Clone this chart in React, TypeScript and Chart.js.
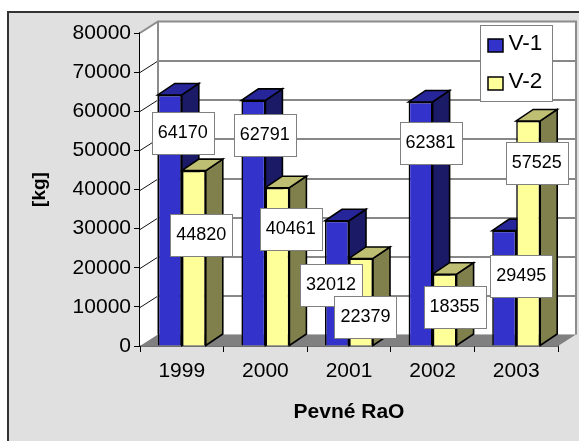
import React, { useEffect, useRef } from "react";
import { Chart, registerables } from "chart.js";

Chart.register(...registerables);

const categories = ["1999", "2000", "2001", "2002", "2003"];
const v1Values = [64170, 62791, 32012, 62381, 29495];
const v2Values = [44820, 40461, 22379, 18355, 57525];
const seriesNames = ["V-1", "V-2"];
const yTicks = [0, 10000, 20000, 30000, 40000, 50000, 60000, 70000, 80000];

const FONT = '"Liberation Sans", Arial, sans-serif';
const DEPTH_X = 17;
const DEPTH_Y = 11.5;
const styles = [
  { front: "#3333cc", side: "#1a1a66", top: "#26269a" },
  { front: "#ffff99", side: "#80804d", top: "#bfbf73" },
];
// label centre relative to the bar's top-centre, in pixels
const labelNudge = [
  [[13, 38], [11.4, 35], [-6, 64], [10, 41], [17, 45]],
  [[7.5, 64], [13.4, 41], [4.5, 59], [10, 33], [8.6, 42]],
];

function poly(ctx: CanvasRenderingContext2D, pts: number[][], fill: string | null, stroke: string | null, lw = 1) {
  ctx.beginPath();
  pts.forEach((p, i) => (i ? ctx.lineTo(p[0], p[1]) : ctx.moveTo(p[0], p[1])));
  ctx.closePath();
  if (fill) {
    ctx.fillStyle = fill;
    ctx.fill();
  }
  if (stroke) {
    ctx.strokeStyle = stroke;
    ctx.lineWidth = lw;
    ctx.stroke();
  }
}

const pseudo3d = {
  id: "pseudo3d",
  beforeDraw(chart: any) {
    const { ctx, width, height } = chart;
    ctx.save();
    ctx.fillStyle = "#ffffff";
    ctx.fillRect(0, 0, width, height);
    ctx.fillStyle = "#e0e0e0";
    ctx.fillRect(7, 11, width - 7, height - 11);
    ctx.fillStyle = "#333333";
    ctx.fillRect(7, 11, width - 7, 2);
    ctx.fillRect(7, 11, 2, height - 11);
    ctx.restore();
  },
  beforeDatasetsDraw(chart: any) {
    const { ctx, chartArea: a, scales } = chart;
    const dx = DEPTH_X + 1;
    const dy = DEPTH_Y;
    ctx.save();
    // side wall, back wall, floor
    poly(ctx, [[a.left, a.top], [a.left + dx, a.top - dy], [a.left + dx, a.bottom - dy], [a.left, a.bottom]], "#ffffff", null);
    ctx.fillStyle = "#ffffff";
    ctx.fillRect(a.left + dx, a.top - dy, a.right - a.left, a.bottom - a.top);
    poly(ctx, [[a.left, a.bottom], [a.left + dx, a.bottom - dy], [a.right + dx, a.bottom - dy], [a.right, a.bottom]], "#808080", null);
    // gridlines
    ctx.strokeStyle = "#111111";
    ctx.lineWidth = 1;
    yTicks.slice(1, -1).forEach((v) => {
      const y = Math.round(scales.y.getPixelForValue(v)) + 0.5;
      ctx.beginPath();
      ctx.moveTo(a.left, y);
      ctx.lineTo(a.left + dx, y - dy);
      ctx.lineTo(a.right + dx, y - dy);
      ctx.stroke();
    });
    // wall frame
    ctx.strokeStyle = "#8c8c8c";
    ctx.lineWidth = 2;
    ctx.beginPath();
    ctx.moveTo(a.left, a.top);
    ctx.lineTo(a.left + dx, a.top - dy);
    ctx.lineTo(a.right + dx, a.top - dy);
    ctx.lineTo(a.right + dx, a.bottom - dy);
    ctx.stroke();
    ctx.beginPath();
    ctx.moveTo(a.left + dx, a.top - dy);
    ctx.lineTo(a.left + dx, a.bottom - dy);
    ctx.stroke();
    // bar sides and tops
    [0, 1].forEach((ds) => {
      chart.getDatasetMeta(ds).data.forEach((bar: any) => {
        const l = bar.x - bar.width / 2;
        const r = bar.x + bar.width / 2;
        poly(ctx, [[r, bar.y], [r + DEPTH_X, bar.y - dy], [r + DEPTH_X, bar.base - dy], [r, bar.base]], styles[ds].side, "#000000", 1.6);
        poly(ctx, [[l, bar.y], [l + DEPTH_X, bar.y - dy], [r + DEPTH_X, bar.y - dy], [r, bar.y]], styles[ds].top, "#000000", 1.6);
      });
    });
    ctx.restore();
  },
  afterDatasetsDraw(chart: any) {
    const { ctx, chartArea: a } = chart;
    ctx.save();
    // value labels
    const boxW = 62;
    const boxH = 42;
    ctx.textAlign = "center";
    ctx.textBaseline = "middle";
    ctx.font = `18px ${FONT}`;
    [0, 1].forEach((ds) => {
      chart.getDatasetMeta(ds).data.forEach((bar: any, i: number) => {
        const cx = bar.x + labelNudge[ds][i][0];
        const cy = bar.y + labelNudge[ds][i][1];
        const x = Math.round(cx - boxW / 2) + 0.5;
        const y = Math.round(cy - boxH / 2) + 0.5;
        ctx.fillStyle = "#ffffff";
        ctx.fillRect(x, y, boxW, boxH);
        ctx.strokeStyle = "#808080";
        ctx.lineWidth = 1;
        ctx.strokeRect(x, y, boxW, boxH);
        ctx.fillStyle = "#000000";
        ctx.fillText(String(chart.data.datasets[ds].data[i]), cx, cy);
      });
    });
    // legend
    const lx = a.right - 77.5;
    const ly = a.top - 7.5;
    ctx.fillStyle = "#ffffff";
    ctx.fillRect(lx, ly, 72, 76);
    ctx.strokeStyle = "#808080";
    ctx.strokeRect(lx, ly, 72, 76);
    ctx.font = `22.5px ${FONT}`;
    ctx.textAlign = "left";
    seriesNames.forEach((name, i) => {
      const sy = ly + 13.5 + i * 38;
      ctx.fillStyle = styles[i].front;
      ctx.fillRect(lx + 7.5, sy, 15, 13);
      ctx.strokeStyle = "#000000";
      ctx.lineWidth = 1.5;
      ctx.strokeRect(lx + 7.5, sy, 15, 13);
      ctx.fillStyle = "#000000";
      ctx.fillText(name, lx + 28, sy + 5);
    });
    ctx.restore();
  },
};

export default function App() {
  const ref = useRef<HTMLCanvasElement>(null);
  useEffect(() => {
    const chart = new Chart(ref.current!, {
      type: "bar",
      data: {
        labels: categories,
        datasets: [
          { label: seriesNames[0], data: v1Values, backgroundColor: styles[0].front, borderColor: "#000000", borderWidth: 1.6 },
          { label: seriesNames[1], data: v2Values, backgroundColor: styles[1].front, borderColor: "#000000", borderWidth: 1.6 },
        ],
      },
      plugins: [pseudo3d],
      options: {
        responsive: false,
        animation: false,
        devicePixelRatio: 1,
        layout: { padding: { top: 33, right: 21, left: 0, bottom: 0 } },
        datasets: { bar: { categoryPercentage: 0.574, barPercentage: 1 } },
        plugins: { legend: { display: false }, tooltip: { enabled: false }, title: { display: false } },
        scales: {
          x: {
            grid: { display: true, drawOnChartArea: false, color: "#000000", tickLength: 6, offset: true },
            border: { color: "#000000", width: 1.5 },
            ticks: { color: "#000000", font: { family: FONT, size: 21 }, padding: 7, maxRotation: 0 },
            title: { display: true, text: "Pevné RaO", color: "#000000", padding: { top: 4, bottom: 16 }, font: { family: FONT, size: 21, weight: "bold" } },
            afterFit: (s: any) => { s.height = 95; },
          },
          y: {
            min: 0,
            max: 80000,
            grid: { display: true, drawOnChartArea: false, color: "#000000", tickLength: 6 },
            border: { color: "#000000", width: 1.5 },
            afterBuildTicks: (s: any) => { s.ticks = yTicks.map((value) => ({ value })); },
            ticks: { color: "#000000", font: { family: FONT, size: 21 }, padding: 3, callback: (v: any) => String(v) },
            title: { display: true, text: "[kg]", color: "#000000", padding: { top: 28, bottom: 0 }, font: { family: FONT, size: 19, weight: "bold" } },
            afterFit: (s: any) => { s.width = 140; },
          },
        },
      } as any,
    });
    return () => chart.destroy();
  }, []);
  return <canvas ref={ref} width={579} height={441} style={{ position: "fixed", left: 0, top: 0, display: "block" }} />;
}
